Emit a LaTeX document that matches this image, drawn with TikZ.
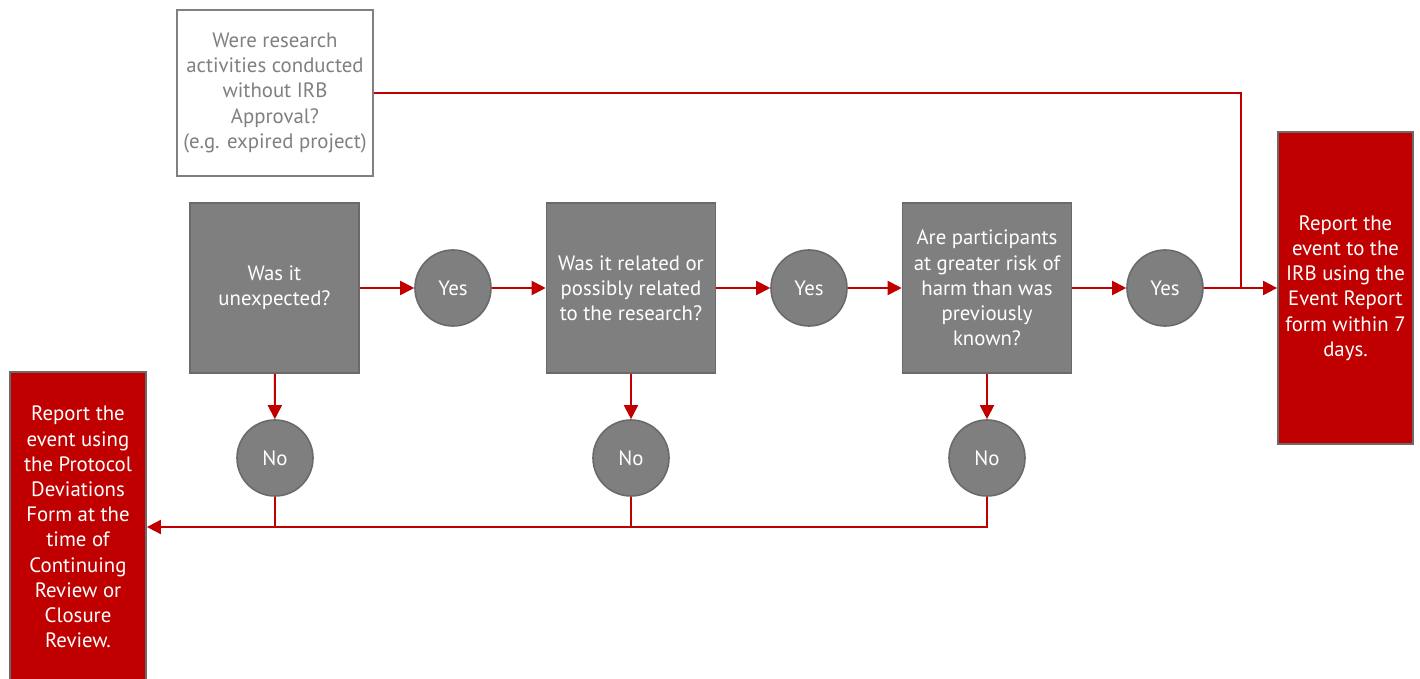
\documentclass[tikz,border=0pt]{standalone}
\usepackage{fontspec}
\setmainfont{PT Sans}
\usetikzlibrary{arrows.meta,calc}
\definecolor{boxgray}{HTML}{7F7F7F}
\definecolor{edgegray}{HTML}{6A6A6A}
\definecolor{irbred}{HTML}{C00000}
\definecolor{lightgray}{HTML}{808080}
\tikzset{
  question/.style={rectangle, fill=boxgray, draw=edgegray, line width=0.8pt, text=white,
    minimum width=84.5pt, minimum height=85pt, align=center, inner sep=0pt},
  answer/.style={circle, fill=boxgray, draw=edgegray, line width=0.8pt, text=white,
    minimum size=38pt, inner sep=0pt},
  report/.style={rectangle, fill=irbred, draw=edgegray, line width=0.9pt, text=white,
    align=center, inner sep=0pt},
  flow/.style={draw=irbred, line width=1pt, -{Triangle[length=7pt,width=7pt]}},
  link/.style={draw=irbred, line width=1pt},
}
\begin{document}
\begin{tikzpicture}[x=0.5pt,y=-0.5pt,font=\fontsize{10.4pt}{12.6pt}\selectfont]
\useasboundingbox (0,0) rectangle (1420,679);
\fill[white] (0,0) rectangle (1420,679);
\node[rectangle, draw=lightgray, line width=1pt, fill=white, text=lightgray, align=center,
  minimum width=98pt, minimum height=83pt, inner sep=0pt] (top) at (275,93)
  {Were research\\activities conducted\\without IRB\\Approval?\\(e.g. expired project)};
\node[question] (q1) at (274.5,288) {Was it\\unexpected?};
\node[question] (q2) at (631,288) {Was it related or\\possibly related\\to the research?};
\node[question] (q3) at (987,288) {Are participants\\at greater risk of\\harm than was\\previously\\known?};
\node[answer] (y1) at (453,288) {Yes};
\node[answer] (y2) at (809,288) {Yes};
\node[answer] (y3) at (1165,288) {Yes};
\node[answer] (n1) at (275,458) {No};
\node[answer] (n2) at (631,458) {No};
\node[answer] (n3) at (987,458) {No};
\node[report, minimum width=67.5pt, minimum height=156pt] (rr) at (1345.5,288)
  {Report the\\event to the\\IRB using the\\Event Report\\form within 7\\days.};
\node[report, minimum width=68pt, minimum height=155pt] (lr) at (78,527)
  {Report the\\event using\\the Protocol\\Deviations\\Form at the\\time of\\Continuing\\Review or\\Closure\\Review.};
\coordinate (j) at (1241,288);
\draw[flow] (q1) -- (y1);
\draw[flow] (y1) -- (q2);
\draw[flow] (q2) -- (y2);
\draw[flow] (y2) -- (q3);
\draw[flow] (q3) -- (y3);
\draw[flow] (y3) -- (rr);
\draw[link] (top.east) -| (j);
\draw[flow] (q1) -- (n1);
\draw[flow] (q2) -- (n2);
\draw[flow] (q3) -- (n3);
\draw[flow] (n3.south) |- (lr.east);
\draw[link] (n1.south) -- (n1.south |- lr.east);
\draw[link] (n2.south) -- (n2.south |- lr.east);
\end{tikzpicture}
\end{document}
